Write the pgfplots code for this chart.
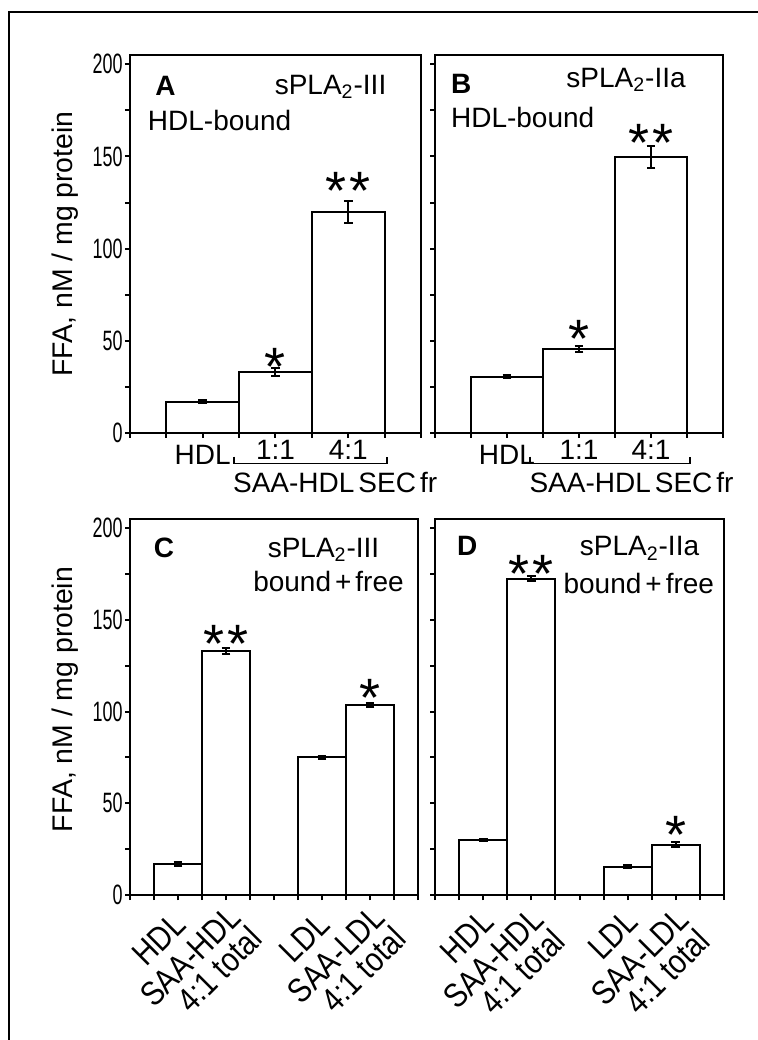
\documentclass[border=0pt]{standalone}
\usepackage{fontspec}
\setmainfont{Liberation Sans}
\newfontfamily\narrowfont[FakeStretch=0.64]{Liberation Sans}
\newfontfamily\rotfont[FakeStretch=0.85]{Liberation Sans}
\usepackage{pgfplots}
\pgfplotsset{compat=1.18}

\newcommand\starfont{\fontsize{27}{27}\selectfont}
\newcommand\txt{\fontsize{14}{14}\selectfont}

\pgfplotsset{
  panel/.style={
    scale only axis, anchor=south west, clip=false,
    ymin=0, ymax=205,
    ytick={0,50,...,200}, minor ytick={25,75,...,175},
    tick align=outside, tick pos=left,
    major tick length=2.5pt, minor tick length=2.5pt,
    every tick/.style={black, line width=1pt},
    every minor tick/.style={black, line width=1pt},
    axis line style={line width=1pt},
    ybar, bar width=1, bar shift=0pt,
    /pgf/number format/assume math mode=true,
    tick label style={font=\txt},
    yticklabel style={font=\narrowfont\fontsize{14}{14}\selectfont, inner sep=1pt},
    every axis y label/.style={at={(axis description cs:-0.223,0.5)}, rotate=90, anchor=center, font=\fontsize{14.2}{14.2}\selectfont},
  },
  rotlab/.style={
    xticklabel style={rotate=45, anchor=north east, inner sep=0pt, align=right,
      font=\rotfont\fontsize{17}{15}\selectfont, yshift=-1pt, xshift=#1},
  },
  bars/.style={fill=white, draw=black, line width=1pt,
    error bars/.cd, y dir=both, y explicit,
    error bar style={line width=1pt, black},
    error mark options={rotate=90, mark size=2.2pt, line width=1pt, black}},
}

\begin{document}
\begin{tikzpicture}
\useasboundingbox (0,0) rectangle (379pt,520pt);
\draw[line width=1pt] (4.5pt,0) -- (4.5pt,514pt) -- (379pt,514pt);

% A
\begin{axis}[panel, at={(65pt,303.5pt)}, width=145.5pt, height=189pt,
  xmin=0, xmax=4, xtick={1,2,3}, minor xtick={0,0.5,...,4},
  xticklabels={\raisebox{-2.5pt}[\height][\depth]{HDL}, 1:1, 4:1},
  xticklabel style={inner sep=1pt},
  ylabel={FFA, nM / mg protein}]
\addplot[bars] coordinates {(1,17) +- (0,1) (2,33) +- (0,2) (3,120) +- (0,6)};
\node[anchor=base west, font=\txt\bfseries] at (axis cs:0.25,183) {A};
\node[anchor=base east, font=\txt] at (axis cs:3.62,183.6) {sPLA\textsubscript{2}-III};
\node[anchor=base west, font=\txt] at (axis cs:0.15,164) {HDL-bound};
\node[anchor=base, yshift=-15.5pt, font=\starfont] at (axis cs:2,42.4) {*};
\node[anchor=base, yshift=-15.5pt, font=\starfont] at (axis cs:3,138) {*\hspace{1.5pt}*};
\draw[line width=0.8pt] (axis cs:1.43,-12.8) |- (axis cs:3.53,-16.6) -- (axis cs:3.53,-12.8);
\node[anchor=base, font=\txt] at (axis cs:2.82,-32.3) {SAA-HDL\hspace{2pt}SEC\hspace{2pt}fr};
\end{axis}

% B
\begin{axis}[panel, at={(217.5pt,303.5pt)}, width=144pt, height=189pt,
  xmin=0, xmax=4, xtick={1,2,3}, minor xtick={0,0.5,...,4},
  xticklabels={\raisebox{-2.5pt}[\height][\depth]{HDL}, 1:1, 4:1},
  xticklabel style={inner sep=1pt},
  yticklabels={}]
\addplot[bars] coordinates {(1,30.5) +- (0,0.8) (2,45.5) +- (0,1.5) (3,149.5) +- (0,6)};
\node[anchor=base west, font=\txt\bfseries] at (axis cs:0.125,184) {B};
\node[anchor=base east, font=\txt] at (axis cs:3.58,187.3) {sPLA\textsubscript{2}-IIa};
\node[anchor=base west, font=\txt] at (axis cs:0.125,165.5) {HDL-bound};
\node[anchor=base, yshift=-15.5pt, font=\starfont] at (axis cs:2,57.6) {*};
\node[anchor=base, yshift=-15.5pt, font=\starfont] at (axis cs:3,164) {*\hspace{1.5pt}*};
\draw[line width=0.8pt] (axis cs:1.32,-12.8) |- (axis cs:3.54,-16.6) -- (axis cs:3.54,-12.8);
\node[anchor=base, font=\txt] at (axis cs:2.73,-32.3) {SAA-HDL\hspace{2pt}SEC\hspace{2pt}fr};
\end{axis}

% C
\begin{axis}[panel, at={(65pt,72.5pt)}, width=144pt, height=188pt,
  xmin=0, xmax=6, xtick={1,4}, minor xtick={0,0.5,...,6},
  xticklabels={HDL, LDL},
  extra x ticks={2,5},
  extra x tick labels={SAA-HDL\\4:1 total, SAA-LDL\\4:1 total},
  rotlab=-6pt,
  extra x tick style={xticklabel style={xshift=5pt}},
  ylabel={FFA, nM / mg protein},
  every axis y label/.append style={at={(axis description cs:-0.226,0.52)}}]
\addplot[bars] coordinates {(1,17) +- (0,1) (2,133) +- (0,1.5) (4,75) +- (0,0.6) (5,103.5) +- (0,1)};
\node[anchor=base west, font=\txt\bfseries] at (axis cs:0.35,184) {C};
\node[anchor=base east, font=\txt] at (axis cs:5.34,184) {sPLA\textsubscript{2}-III};
\node[anchor=base east, font=\txt] at (axis cs:5.85,165.7) {bound\hspace{2pt}+\hspace{2pt}free};
\node[anchor=base, yshift=-15.5pt, font=\starfont] at (axis cs:2,143.4) {*\hspace{1.5pt}*};
\node[anchor=base, yshift=-15.5pt, font=\starfont] at (axis cs:5,114.2) {*};
\end{axis}

% D
\begin{axis}[panel, at={(217.5pt,72.5pt)}, width=144.5pt, height=188pt,
  xmin=0, xmax=6, xtick={1,4}, minor xtick={0,0.5,...,6},
  xticklabels={HDL, LDL},
  extra x ticks={2,5},
  extra x tick labels={SAA-HDL\\4:1 total, SAA-LDL\\4:1 total},
  rotlab=-4pt,
  extra x tick style={xticklabel style={xshift=1.5pt}},
  yticklabels={}]
\addplot[bars] coordinates {(1,30) +- (0,0.8) (2,172.5) +- (0,1.5) (4,15.5) +- (0,0.8) (5,27.5) +- (0,1.2)};
\node[anchor=base west, font=\txt\bfseries] at (axis cs:0.31,185) {D};
\node[anchor=base east, font=\txt] at (axis cs:5.63,185) {sPLA\textsubscript{2}-IIa};
\node[anchor=base east, font=\txt] at (axis cs:5.94,164.6) {bound\hspace{2pt}+\hspace{2pt}free};
\node[anchor=base, yshift=-15.5pt, font=\starfont] at (axis cs:2,181.6) {*\hspace{1.5pt}*};
\node[anchor=base, yshift=-15.5pt, font=\starfont] at (axis cs:5,39.7) {*};
\end{axis}
\end{tikzpicture}
\end{document}
